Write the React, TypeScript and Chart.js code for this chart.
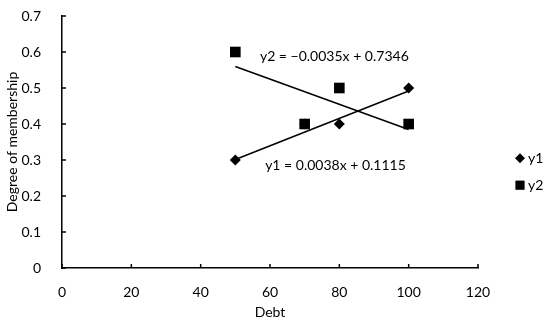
import React, { useEffect, useRef } from "react";
import { Chart, registerables } from "chart.js";

Chart.register(...registerables);

const xValues = [50, 70, 80, 100];
const y1Values = [0.3, 0.4, 0.4, 0.5];
const y2Values = [0.6, 0.4, 0.5, 0.4];
const trendX = [50, 100];
const trend1Values = [0.3015, 0.4915];
const trend2Values = [0.5596, 0.3846];
const eq1Label = "y1 = 0.0038x + 0.1115";
const eq2Label = "y2 = \u22120.0035x + 0.7346";
const xTicks = [0, 20, 40, 60, 80, 100, 120];
const yTicks = [0, 0.1, 0.2, 0.3, 0.4, 0.5, 0.6, 0.7];
const FONT = "Lato, 'Liberation Sans', sans-serif";
const FS = 14;

export default function App() {
  const ref = useRef<HTMLCanvasElement>(null);
  useEffect(() => {
    document.body.style.margin = "0";
    const canvas = ref.current!;
    const innerTicks = {
      id: "innerTicks",
      afterDatasetsDraw(chart: any) {
        const { ctx, scales, chartArea } = chart;
        ctx.save();
        ctx.strokeStyle = "#000";
        ctx.lineWidth = 1.5;
        for (const v of yTicks) {
          const y = scales.y.getPixelForValue(v);
          ctx.beginPath();
          ctx.moveTo(chartArea.left, y);
          ctx.lineTo(chartArea.left + 4, y);
          ctx.stroke();
        }
        for (const v of xTicks) {
          const x = scales.x.getPixelForValue(v);
          ctx.beginPath();
          ctx.moveTo(x, chartArea.bottom);
          ctx.lineTo(x, chartArea.bottom - 4);
          ctx.stroke();
        }
        // equation labels
        ctx.fillStyle = "#000";
        ctx.font = `${FS}px ${FONT}`;
        ctx.textBaseline = "middle";
        ctx.textAlign = "left";
        ctx.fillText(eq2Label, scales.x.getPixelForValue(57.1), scales.y.getPixelForValue(0.587));
        ctx.fillText(eq1Label, scales.x.getPixelForValue(58.6), scales.y.getPixelForValue(0.285));
        // legend
        const lx = chartArea.right + 42;
        const items = [
          { label: "y1", style: "rectRot", r: 5, ly: scales.y.getPixelForValue(0.305) },
          { label: "y2", style: "rect", r: 6.5, ly: scales.y.getPixelForValue(0.23) },
        ];
        for (const it of items) {
          ctx.beginPath();
          if (it.style === "rectRot") {
            ctx.moveTo(lx - it.r, it.ly);
            ctx.lineTo(lx, it.ly - it.r);
            ctx.lineTo(lx + it.r, it.ly);
            ctx.lineTo(lx, it.ly + it.r);
            ctx.closePath();
          } else {
            const s = it.r * Math.SQRT1_2;
            ctx.rect(lx - s, it.ly - s, 2 * s, 2 * s);
          }
          ctx.fill();
          ctx.fillText(it.label, lx + 8, it.ly);
        }
        ctx.restore();
      },
    };
    const chart = new Chart(canvas, {
      type: "scatter",
      data: {
        datasets: [
          {
            label: "y1",
            data: xValues.map((x, i) => ({ x, y: y1Values[i] })),
            pointStyle: "rectRot",
            pointRadius: 5.5,
            backgroundColor: "#000",
            borderColor: "#000",
            borderWidth: 0,
          },
          {
            label: "y2",
            data: xValues.map((x, i) => ({ x, y: y2Values[i] })),
            pointStyle: "rect",
            pointRadius: 7.5,
            backgroundColor: "#000",
            borderColor: "#000",
            borderWidth: 0,
          },
          {
            label: "t1",
            data: trendX.map((x, i) => ({ x, y: trend1Values[i] })),
            showLine: true,
            pointRadius: 0,
            borderColor: "#000",
            borderWidth: 1.5,
          },
          {
            label: "t2",
            data: trendX.map((x, i) => ({ x, y: trend2Values[i] })),
            showLine: true,
            pointRadius: 0,
            borderColor: "#000",
            borderWidth: 1.5,
          },
        ],
      },
      options: {
        animation: false,
        responsive: false,
        layout: { padding: { top: 16, right: 72, left: 0, bottom: 0 } },
        plugins: { legend: { display: false }, tooltip: { enabled: false } },
        scales: {
          x: {
            type: "linear",
            min: 0,
            max: 120,
            afterBuildTicks: (s: any) => { s.ticks = xTicks.map((v) => ({ value: v })); },
            afterFit: (s: any) => { s.height = 57; s.paddingLeft = 0; s.paddingRight = 0; },
            grid: { display: false },
            border: { display: true, color: "#000", width: 1.5 },
            ticks: { color: "#000", font: { family: FONT, size: FS }, padding: 8 },
            title: { display: true, text: "Debt", color: "#000", font: { family: FONT, size: FS }, padding: { top: 3 } },
          },
          y: {
            type: "linear",
            min: 0,
            max: 0.7,
            afterBuildTicks: (s: any) => { s.ticks = yTicks.map((v) => ({ value: v })); },
            afterFit: (s: any) => { s.width = 62; s.paddingTop = 0; s.paddingBottom = 0; },
            grid: { display: false },
            border: { display: true, color: "#000", width: 1.5 },
            ticks: { color: "#000", font: { family: FONT, size: FS }, padding: 13, callback: (v: any) => String(v) },
            title: { display: true, text: "Degree of membership", color: "#000", font: { family: FONT, size: FS }, padding: { top: 4, bottom: 0 } },
          },
        },
      },
      plugins: [innerTicks],
    });
    return () => chart.destroy();
  }, []);
  return (
    <div style={{ position: "absolute", left: 0, top: 0, width: 550, height: 325 }}>
      <canvas ref={ref} width={550} height={325} style={{ width: 550, height: 325 }} />
    </div>
  );
}
